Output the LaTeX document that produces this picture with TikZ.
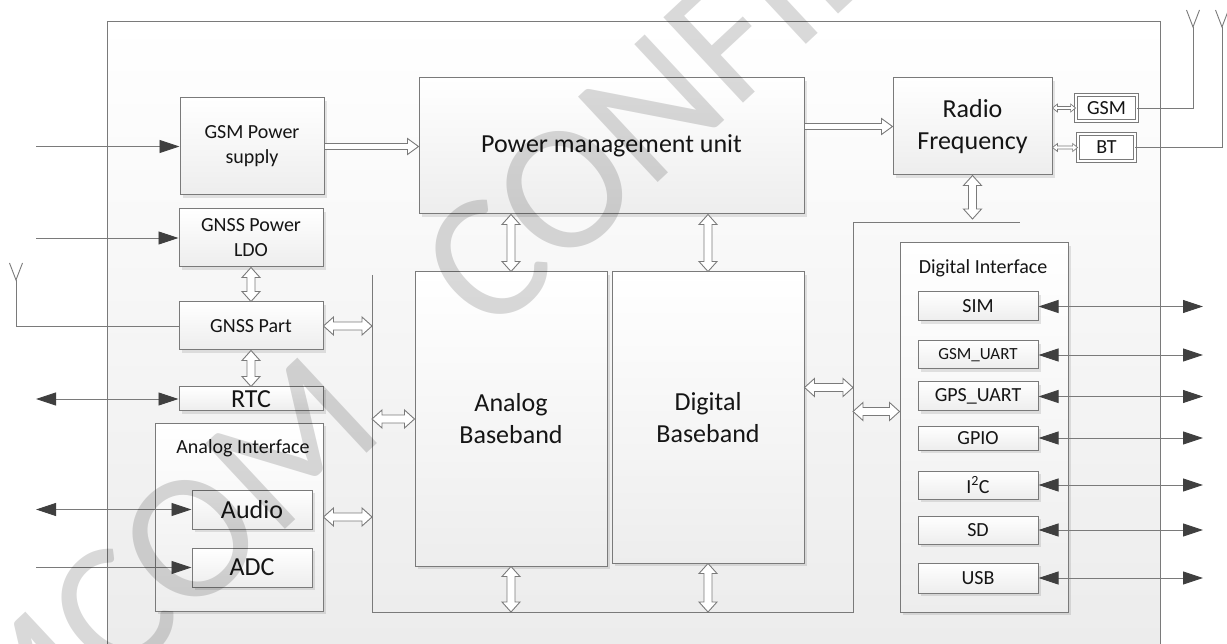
\documentclass[tikz,border=0pt]{standalone}
\usepackage{fontspec}
\setmainfont{Carlito}
\usetikzlibrary{arrows.meta,calc,shadows}
\definecolor{bord}{HTML}{7A7A7A}
\definecolor{tipc}{HTML}{3F3F3F}
\definecolor{txt}{HTML}{151515}
\tikzset{
  blk/.style={draw=bord, line width=1pt, top color=white, bottom color=black!7,
    inner sep=0pt, align=center, text=txt,
    drop shadow={shadow xshift=3pt, shadow yshift=-3pt, fill=black, opacity=0.10}},
  dbox/.style={draw=bord, line width=0.8pt, double=white, double distance=1.8pt,
    fill=white, inner sep=0pt, align=center, text=txt,
    drop shadow={shadow xshift=2pt, shadow yshift=-2pt, fill=black, opacity=0.10}},
  lbl/.style={inner sep=0pt, text=txt},
  fs20/.style={font=\fontsize{20}{25}\selectfont},
  fs17/.style={font=\fontsize{17}{21}\selectfont},
  fs26/.style={font=\fontsize{26}{32}\selectfont},
  wire/.style={draw=bord, line width=0.9pt},
  sig/.style={wire, -{Triangle[length=20pt,width=13pt,color=tipc]}},
  bisig/.style={wire, {Triangle[length=20pt,width=13pt,color=tipc]}-{Triangle[length=20pt,width=13pt,color=tipc]}},
  hollow/.style={draw=bord, fill=white, line width=0.9pt, line join=miter},
  hdbl/.style={hollow, to path={-- ++(10,-9) -- ++(0,5) -- ($(\tikztotarget)+(-10,-4)$) -- ++(0,-5)
     -- (\tikztotarget) -- ++(-10,9) -- ++(0,-5) -- ($(\tikztostart)+(10,4)$) -- ++(0,5) -- cycle}},
  vdbl/.style={hollow, to path={-- ++(-9,10) -- ++(5,0) -- ($(\tikztotarget)+(-4,-10)$) -- ++(-5,0)
     -- (\tikztotarget) -- ++(9,-10) -- ++(-5,0) -- ($(\tikztostart)+(4,10)$) -- ++(5,0) -- cycle}},
  harr/.style={hollow, to path={-- ++(0,-3) -- ($(\tikztotarget)+(-11,-3)$) -- ++(0,-5)
     -- (\tikztotarget) -- ++(-11,8) -- ++(0,-5) -- ($(\tikztostart)+(0,3)$) -- cycle}},
  sdbl/.style={hollow, line width=0.7pt, to path={-- ++(5,-4) -- ++(0,2.5) -- ($(\tikztotarget)+(-5,-1.5)$) -- ++(0,-2.5)
     -- (\tikztotarget) -- ++(-5,4) -- ++(0,-2.5) -- ($(\tikztostart)+(5,1.5)$) -- ++(0,2.5) -- cycle}},
}
\begin{document}
\begin{tikzpicture}[x=1pt,y=-1pt]
\useasboundingbox (0,0) rectangle (1227,644);
\fill[white] (0,0) rectangle (1227,644);
% chip outline
\path[draw=bord, line width=1pt, top color=white, bottom color=black!8] (107,22) rectangle (1160,690);

% left column
\node[blk, fs20, minimum width=144pt, minimum height=97pt] (gsmps) at (252,146.5) {GSM Power\\supply};
\node[blk, fs20, minimum width=144pt, minimum height=58pt] (ldo) at (251,238) {GNSS Power\\LDO};
\node[blk, fs20, minimum width=144pt, minimum height=48pt] (gnss) at (251,326) {GNSS Part};
\node[blk, fs26, minimum width=144pt, minimum height=24pt] (rtc) at (251,399) {RTC};
\node[blk, minimum width=168pt, minimum height=188pt] (anaif) at (239,517) {};
\node[lbl, fs20] (anaiflbl) at (243,448) {Analog Interface};
\node[blk, fs26, minimum width=120pt, minimum height=39pt] (audio) at (252,509.5) {Audio};
\node[blk, fs26, minimum width=120pt, minimum height=39pt] (adc) at (252,567.5) {ADC};

% centre
\node[blk, fs26, minimum width=385pt, minimum height=136pt] (pmu) at (611.5,146) {Power management unit};
\node[blk, fs26, minimum width=192pt, minimum height=294pt] (anabb) at (511,419) {Analog\\Baseband};
\node[blk, fs26, minimum width=192pt, minimum height=291pt] (digbb) at (708,417.5) {Digital\\Baseband};

% right
\node[blk, fs26, minimum width=159pt, minimum height=97pt] (rf) at (972.5,126.5) {Radio\\Frequency};
\node[dbox, fs20, minimum width=61pt, minimum height=26pt] (gsmb) at (1106.5,108) {GSM};
\node[dbox, fs20, minimum width=57pt, minimum height=27pt] (bt) at (1106.5,147.5) {BT};
\node[blk, minimum width=168pt, minimum height=369pt] (digif) at (984,427.5) {};
\node[lbl, fs20] (digiflbl) at (983,268) {Digital Interface};
\node[blk, fs20, minimum width=120pt, minimum height=29pt] (sim) at (978,306.5) {SIM};
\node[blk, fs17, minimum width=120pt, minimum height=28pt] (gsmuart) at (978,355) {GSM\_UART};
\node[blk, fs20, minimum width=120pt, minimum height=29pt] (gpsuart) at (978,396.5) {GPS\_UART};
\node[blk, fs20, minimum width=120pt, minimum height=24pt] (gpio) at (978,438) {GPIO};
\node[blk, fs20, minimum width=120pt, minimum height=28pt] (i2c) at (978,485) {I\textsuperscript{2}C};
\node[blk, fs20, minimum width=120pt, minimum height=28pt] (sd) at (978,530) {SD};
\node[blk, fs20, minimum width=120pt, minimum height=30pt] (usb) at (978,578) {USB};

% bus
\coordinate (b1) at (372,275);
\coordinate (b2) at (372,612);
\coordinate (b3) at (853,612);
\coordinate (b4) at (853,222);
\coordinate (b5) at (1020,222);
\draw[wire] (b1) -- (b2) -- (b3) -- (b4) -- (b5);

% external signals left
\coordinate (inGSM) at (36,146.5);
\coordinate (inLDO) at (36,238);
\coordinate (inRTC) at (36,399);
\coordinate (inAud) at (36,509.5);
\coordinate (inADC) at (36,567.5);
\draw[sig] (inGSM) -- (gsmps.west);
\draw[sig] (inLDO) -- (ldo.west);
\draw[bisig] (inRTC) -- (rtc.west);
\draw[bisig] (inAud) -- (audio.west);
\draw[sig] (inADC) -- (adc.west);

% external signals right
\coordinate (outx) at (1203,0);
\foreach \n in {sim,gsmuart,gpsuart,gpio,i2c,sd,usb}
  \draw[bisig] (\n.east) -- (\n.east -| outx);

% antennas
\coordinate (antG) at (16,280);
\coordinate (antA) at (1193,27);
\coordinate (antB) at (1222,27);
\draw[wire] (gnss.west) -| (antG);
\draw[wire] (gsmb.east) -| (antA);
\draw[wire] (bt.east) -| (antB);
\foreach \a in {antG,antA,antB}
  \draw[wire] ($(\a)+(-6.5,-17)$) -- (\a) -- ($(\a)+(6.5,-17)$);

% block arrows
\coordinate (pmuIn) at (gsmps.east -| pmu.west);
\coordinate (pmuOut) at (rf.west -| pmu.east);
\draw[harr] (gsmps.east) to (pmuIn);
\draw[harr] (pmuOut) to (rf.west);
\draw[vdbl] (ldo.south) to (gnss.north);
\draw[vdbl] (gnss.south) to (rtc.north);
\coordinate (gb) at (gnss.east -| b1);
\draw[hdbl] (gnss.east) to (gb);
\coordinate (ab) at (anaif.east -| b1);
\draw[hdbl] (anaif.east) to (ab);
\coordinate (ba) at (anabb.west -| b1);
\draw[hdbl] (ba) to (anabb.west);
\coordinate (pa) at (anabb.north |- pmu.south);
\draw[vdbl] (pa) to (anabb.north);
\coordinate (pd) at (digbb.north |- pmu.south);
\draw[vdbl] (pd) to (digbb.north);
\coordinate (abus) at (anabb.south |- b2);
\draw[vdbl] (anabb.south) to (abus);
\coordinate (dbus) at (digbb.south |- b2);
\draw[vdbl] (digbb.south) to (dbus);
\coordinate (dbe) at ([yshift=30pt]digbb.east);
\coordinate (dbr) at (dbe -| b3);
\draw[hdbl] (dbe) to (dbr);
\coordinate (die) at ([yshift=16pt]digif.west);
\coordinate (dil) at (die -| b3);
\draw[hdbl] (dil) to (die);
\coordinate (rfb) at ([yshift=3pt]rf.south |- b4);
\draw[vdbl] (rf.south) to (rfb);
\coordinate (rfg) at (gsmb.west -| rf.east);
\draw[sdbl] (rfg) to (gsmb.west);
\coordinate (rft) at (bt.west -| rf.east);
\draw[sdbl] (rft) to (bt.west);

% watermark
\node[rotate=43, anchor=base west, inner sep=0pt, text=black, text opacity=0.15,
  font=\fontsize{182}{182}\selectfont] (wm) at (388,434)
  {\llap{SIMCOM}\hspace*{140pt}\rlap{CONFIDENTIAL}};
\end{tikzpicture}
\end{document}
